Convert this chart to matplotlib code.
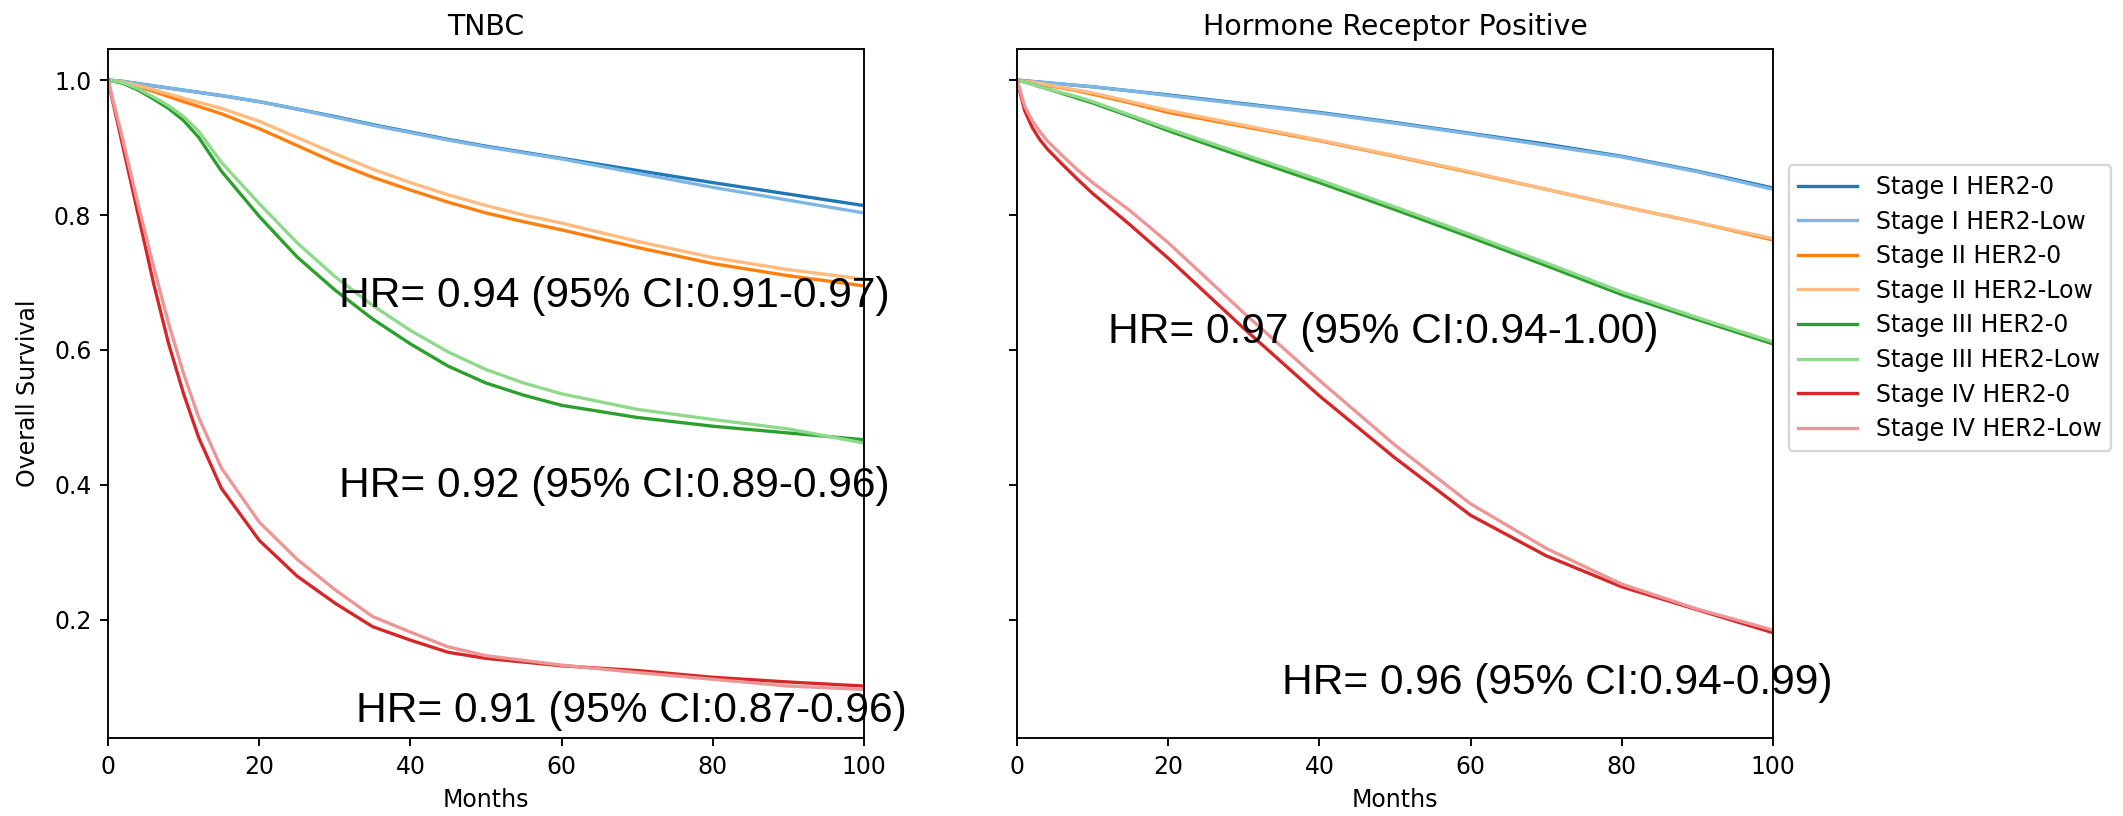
import matplotlib
matplotlib.use("Agg")
import matplotlib.pyplot as plt
from matplotlib import font_manager as fm

# ---------------- data ----------------
labels = ["Stage I HER2-0", "Stage I HER2-Low", "Stage II HER2-0", "Stage II HER2-Low",
          "Stage III HER2-0", "Stage III HER2-Low", "Stage IV HER2-0", "Stage IV HER2-Low"]
colors = ["#1f77b4", "#7db6e4", "#ff7f0e", "#ffbb80",
          "#2ca02c", "#8fd98c", "#d62728", "#ec9697"]

# TNBC panel
months_tnbc = [0, 2, 5, 10, 15, 20, 25, 30, 35, 40, 45, 50, 55, 60, 70, 80, 90, 100]
tnbc_s1_h0 = [1.0, 0.998, 0.993, 0.985, 0.977, 0.968, 0.957, 0.946, 0.934, 0.923, 0.912, 0.902, 0.893, 0.884, 0.866, 0.848, 0.831, 0.814]
tnbc_s1_lo = [1.0, 0.998, 0.993, 0.985, 0.977, 0.968, 0.957, 0.945, 0.933, 0.922, 0.911, 0.901, 0.892, 0.883, 0.862, 0.841, 0.822, 0.803]
tnbc_s2_h0 = [1.0, 0.996, 0.987, 0.968, 0.950, 0.928, 0.903, 0.878, 0.856, 0.837, 0.819, 0.803, 0.790, 0.778, 0.752, 0.728, 0.710, 0.695]
tnbc_s2_lo = [1.0, 0.997, 0.989, 0.973, 0.958, 0.939, 0.915, 0.891, 0.868, 0.848, 0.830, 0.814, 0.800, 0.788, 0.761, 0.737, 0.719, 0.705]

months_tnbc3 = [0, 2, 4, 6, 8, 10, 12, 15, 20, 25, 30, 35, 40, 45, 50, 55, 60, 70, 80, 90, 100]
tnbc_s3_h0 = [1.0, 0.995, 0.985, 0.972, 0.958, 0.940, 0.915, 0.865, 0.798, 0.738, 0.689, 0.646, 0.609, 0.576, 0.551, 0.533, 0.518, 0.500, 0.487, 0.477, 0.467]
tnbc_s3_lo = [1.0, 0.996, 0.987, 0.975, 0.962, 0.946, 0.924, 0.878, 0.817, 0.759, 0.709, 0.666, 0.629, 0.597, 0.571, 0.551, 0.535, 0.512, 0.497, 0.483, 0.462]

months_tnbc4 = [0, 2, 4, 6, 8, 10, 12, 15, 20, 25, 30, 35, 40, 45, 50, 60, 70, 80, 90, 100]
tnbc_s4_h0 = [1.0, 0.90, 0.80, 0.70, 0.61, 0.535, 0.47, 0.395, 0.318, 0.265, 0.225, 0.190, 0.170, 0.152, 0.143, 0.132, 0.125, 0.115, 0.108, 0.102]
tnbc_s4_lo = [1.0, 0.91, 0.815, 0.725, 0.64, 0.565, 0.50, 0.425, 0.345, 0.290, 0.245, 0.205, 0.182, 0.160, 0.147, 0.133, 0.122, 0.112, 0.102, 0.097]

# Hormone receptor positive panel
months_hr = [0, 1, 2, 3, 4, 6, 8, 10, 15, 20, 30, 40, 50, 60, 70, 80, 90, 100]
hr_s1_h0 = [1.0, 0.999, 0.998, 0.997, 0.996, 0.994, 0.992, 0.990, 0.984, 0.978, 0.965, 0.952, 0.937, 0.921, 0.905, 0.887, 0.865, 0.840]
hr_s1_lo = [1.0, 0.999, 0.998, 0.997, 0.996, 0.994, 0.992, 0.990, 0.984, 0.977, 0.964, 0.951, 0.936, 0.920, 0.903, 0.886, 0.864, 0.838]
hr_s2_h0 = [1.0, 0.998, 0.996, 0.994, 0.992, 0.988, 0.984, 0.979, 0.966, 0.952, 0.931, 0.910, 0.887, 0.863, 0.838, 0.813, 0.789, 0.763]
hr_s2_lo = [1.0, 0.998, 0.997, 0.995, 0.993, 0.989, 0.985, 0.981, 0.968, 0.955, 0.933, 0.911, 0.888, 0.864, 0.838, 0.813, 0.789, 0.765]
hr_s3_h0 = [1.0, 0.997, 0.994, 0.990, 0.987, 0.980, 0.973, 0.966, 0.946, 0.925, 0.886, 0.848, 0.808, 0.767, 0.725, 0.682, 0.645, 0.609]
hr_s3_lo = [1.0, 0.997, 0.994, 0.990, 0.987, 0.981, 0.975, 0.968, 0.948, 0.928, 0.890, 0.852, 0.812, 0.771, 0.729, 0.686, 0.648, 0.612]
hr_s4_h0 = [1.0, 0.955, 0.930, 0.912, 0.898, 0.875, 0.853, 0.832, 0.785, 0.736, 0.632, 0.532, 0.440, 0.355, 0.295, 0.249, 0.215, 0.181]
hr_s4_lo = [1.0, 0.962, 0.940, 0.924, 0.910, 0.888, 0.867, 0.848, 0.806, 0.759, 0.655, 0.555, 0.459, 0.372, 0.306, 0.253, 0.216, 0.185]

tnbc_series = [(months_tnbc, tnbc_s1_h0), (months_tnbc, tnbc_s1_lo),
               (months_tnbc, tnbc_s2_h0), (months_tnbc, tnbc_s2_lo),
               (months_tnbc3, tnbc_s3_h0), (months_tnbc3, tnbc_s3_lo),
               (months_tnbc4, tnbc_s4_h0), (months_tnbc4, tnbc_s4_lo)]
hr_series = [(months_hr, hr_s1_h0), (months_hr, hr_s1_lo),
             (months_hr, hr_s2_h0), (months_hr, hr_s2_lo),
             (months_hr, hr_s3_h0), (months_hr, hr_s3_lo),
             (months_hr, hr_s4_h0), (months_hr, hr_s4_lo)]

tnbc_hr_texts = ["HR= 0.94 (95% CI:0.91-0.97)", "HR= 0.92 (95% CI:0.89-0.96)", "HR= 0.91 (95% CI:0.87-0.96)"]
tnbc_hr_pos = [(30.5, 0.663), (30.5, 0.382), (32.8, 0.049)]
hrpos_hr_texts = ["HR= 0.97 (95% CI:0.94-1.00)", "HR= 0.96 (95% CI:0.94-0.99)"]
hrpos_hr_pos = [(12.0, 0.610), (35.0, 0.09)]

titles = ["TNBC", "Hormone Receptor Positive"]

# ---------------- fonts ----------------
names = {f.name for f in fm.fontManager.ttflist}
if "Liberation Sans Narrow" in names:
    hr_family, hr_size = ["Liberation Sans Narrow", "Liberation Sans"], 21.0
else:
    hr_family, hr_size = ["Liberation Sans", "DejaVu Sans"], 18.0

# ---------------- figure ----------------
DPI = 170
fig = plt.figure(figsize=(2123 / DPI, 816 / DPI), dpi=DPI)
ax1 = fig.add_axes([108 / 2123, 1 - 738 / 816, 756 / 2123, 689 / 816])
ax2 = fig.add_axes([1017 / 2123, 1 - 738 / 816, 756 / 2123, 689 / 816], sharey=ax1)

for ax, series, title in [(ax1, tnbc_series, titles[0]), (ax2, hr_series, titles[1])]:
    for (m, s), lab, c in zip(series, labels, colors):
        ax.plot(m, s, color=c, lw=1.4, label=lab)
    ax.set_xlim(0, 100)
    ax.set_title(title)
    ax.set_xlabel("Months")

ax1.set_ylim(0.025, 1.046)
ax1.set_yticks([0.2, 0.4, 0.6, 0.8, 1.0])
ax1.set_ylabel("Overall Survival", labelpad=6)
ax2.tick_params(labelleft=False)

for (x, y), t in zip(tnbc_hr_pos, tnbc_hr_texts):
    ax1.text(x, y, t, family=hr_family, fontsize=hr_size, va="baseline", ha="left")
for (x, y), t in zip(hrpos_hr_pos, hrpos_hr_texts):
    ax2.text(x, y, t, family=hr_family, fontsize=hr_size, va="baseline", ha="left")

ax2.legend(loc="center left", bbox_to_anchor=(1.005, 0.624), handlelength=2.5,
           labelspacing=0.45)

fig.savefig("out.png", dpi=DPI)
